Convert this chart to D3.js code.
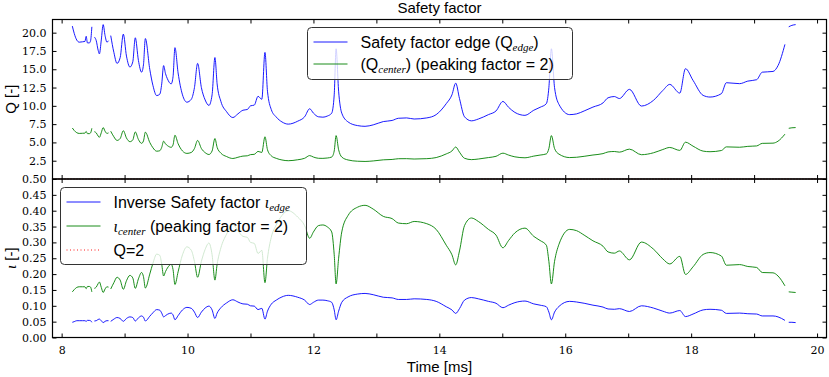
<!DOCTYPE html>
<html>
<head>
<meta charset="utf-8">
<script src="https://cdn.jsdelivr.net/npm/d3@7"></script>
<style>
  body { margin: 0; background: #fff; }
  svg { display: block; }
  .tick text { font-family: "DejaVu Serif", serif; font-size: 11px; fill: #000; }
  .lbl { font-family: "Liberation Sans", Arial, sans-serif; fill: #000; }
  .math { font-family: "Liberation Serif", serif; font-style: italic; }
</style>
</head>
<body>
<div id="chart"></div>
<script>
// time [ms]; null marks a gap in the record
const time = [8.17,8.20,8.24,8.28,8.33,8.37,8.39,8.41,8.44,8.46,8.48,8.50,8.52,8.55,8.58,8.60,8.63,8.66,8.69,8.72,8.745,8.765,
  8.78,8.83,8.88,8.93,8.98,9.03,9.085,9.13,9.17,9.22,9.27,9.30,9.33,9.40,9.45,9.51,9.56,9.59,9.62,9.65,9.68,9.74,9.77,9.80,9.85,9.92,9.99,
  10.06,10.11,10.16,10.22,10.28,10.34,10.39,10.435,10.47,10.53,10.62,10.72,10.80,10.88,10.95,11.00,11.06,11.12,11.18,11.23,11.27,11.33,11.41,
  11.50,11.60,11.75,11.86,11.94,12.00,12.08,12.15,12.22,12.29,12.33,12.36,12.40,12.45,12.55,12.70,12.82,12.95,13.11,13.25,13.35,13.48,13.60,
  13.80,13.95,14.11,14.20,14.26,14.32,14.40,14.51,14.62,14.78,14.90,15.01,15.10,15.20,15.36,15.50,15.60,15.70,15.74,15.78,15.83,15.90,16.07,
  16.18,16.30,16.44,16.60,16.68,16.78,16.86,17.02,17.21,17.40,17.55,17.66,17.82,17.91,18.03,18.19,18.30,18.48,18.56,18.77,18.90,19.04,19.13,
  19.30,19.38,19.49,19.52,19.55,19.60,19.66];

const qEdge = [20.9,19.9,19.0,18.7,18.75,18.8,19.5,18.6,18.6,18.9,20.8,null,19.4,18.9,17.6,17.1,19.0,21.1,19.6,18.7,18.9,null,
  19.6,17.3,15.8,16.6,19.8,16.8,15.3,16.0,19.3,16.2,14.6,15.6,19.2,15.0,12.8,11.4,11.6,13.0,15.5,14.4,13.7,13.0,14.0,17.95,14.5,11.5,10.5,
  10.9,12.5,15.8,12.5,10.8,10.06,11.5,16.6,13.0,10.6,9.2,8.4,8.9,9.4,9.5,10.0,10.1,11.3,10.9,17.3,12.0,9.5,8.46,
  7.8,7.5,7.9,8.5,9.6,9.0,8.5,8.45,8.6,9.0,11.5,17.8,12.0,9.0,7.8,7.3,7.2,7.4,7.85,8.0,8.3,8.35,8.2,
  8.35,8.8,10.3,11.5,13.1,11.0,8.5,7.95,8.2,8.8,9.3,10.6,9.8,9.1,8.7,9.4,9.8,10.3,12.5,17.8,12.5,10.2,8.8,
  8.9,9.3,9.83,10.4,11.1,11.27,11.0,12.25,9.97,10.74,12.1,12.93,11.74,15.08,13.48,11.43,11.2,11.66,13.16,13.03,13.38,13.57,14.6,
  14.7,15.5,18.4,null,20.8,21.0,21.1];

const qCenter = [6.97,6.63,6.33,6.23,6.25,6.27,6.5,6.2,6.2,6.3,6.93,null,6.47,6.3,5.87,5.7,6.33,7.03,6.53,6.23,6.3,null,
  6.53,5.77,5.27,5.53,6.6,5.6,5.1,5.33,6.43,5.4,4.87,5.2,6.4,5.0,4.27,3.8,3.87,4.33,5.17,4.8,4.57,4.33,4.67,5.98,4.83,3.83,3.5,
  3.63,4.17,5.27,4.17,3.6,3.35,3.83,5.53,4.33,3.53,3.07,2.8,2.97,3.13,3.17,3.33,3.37,3.77,3.63,5.77,4.0,3.17,2.82,
  2.6,2.5,2.63,2.83,3.2,3.0,2.83,2.82,2.87,3.0,3.83,5.93,4.0,3.0,2.6,2.43,2.4,2.47,2.62,2.67,2.77,2.78,2.73,
  2.78,2.93,3.43,3.83,4.37,3.67,2.83,2.65,2.73,2.93,3.1,3.53,3.27,3.03,2.9,3.13,3.27,3.43,4.17,5.93,4.17,3.4,2.93,
  2.97,3.1,3.28,3.47,3.7,3.76,3.67,4.08,3.32,3.58,4.03,4.31,3.91,5.03,4.49,3.81,3.73,3.89,4.39,4.34,4.46,4.52,4.87,
  4.9,5.17,6.13,null,6.93,7.0,7.03];

const iotaEdge = [.048,.050,.053,.053,.053,.053,.051,.054,.054,.053,.048,null,.052,.053,.057,.058,.053,.047,.051,.053,.053,null,
  .051,.058,.063,.060,.051,.060,.065,.063,.052,.062,.068,.064,.052,.067,.078,.088,.086,.077,.065,.069,.073,.077,.071,.056,.069,.087,.095,
  .092,.080,.063,.080,.093,.099,.087,.060,.077,.094,.109,.119,.112,.106,.105,.100,.099,.088,.092,.058,.083,.105,.118,
  .128,.133,.127,.118,.104,.111,.118,.118,.116,.111,.087,.056,.083,.111,.128,.137,.139,.135,.127,.125,.120,.120,.122,
  .120,.114,.097,.087,.076,.091,.118,.126,.122,.114,.108,.094,.102,.110,.115,.106,.102,.097,.080,.056,.080,.098,.114,
  .112,.108,.102,.096,.090,.089,.091,.082,.100,.093,.083,.077,.085,.066,.074,.087,.089,.086,.076,.077,.075,.074,.068,
  .068,.065,.054,null,.048,.048,.047];

const iotaCenter = [.144,.151,.158,.160,.160,.160,.154,.161,.161,.159,.144,null,.155,.159,.170,.175,.158,.142,.153,.160,.159,null,
  .153,.173,.190,.181,.152,.179,.196,.188,.155,.185,.205,.192,.156,.200,.234,.263,.259,.231,.194,.208,.219,.231,.214,.167,.207,.261,.286,
  .275,.240,.190,.240,.278,.298,.261,.181,.231,.283,.326,.357,.337,.319,.316,.300,.297,.265,.275,.173,.250,.316,.355,
  .385,.400,.380,.353,.313,.333,.353,.355,.349,.333,.261,.169,.250,.333,.385,.411,.417,.405,.382,.375,.361,.359,.366,
  .359,.341,.291,.261,.229,.273,.353,.377,.366,.341,.323,.283,.306,.330,.345,.319,.306,.291,.240,.169,.240,.294,.341,
  .337,.323,.305,.288,.270,.266,.273,.245,.301,.279,.248,.232,.256,.199,.223,.262,.268,.257,.228,.230,.224,.221,.205,
  .204,.194,.163,null,.144,.143,.142];

const qTicks = [2.5, 5, 7.5, 10, 12.5, 15, 17.5, 20];
const iotaTicks = [0, .05, .10, .15, .20, .25, .30, .35, .40, .45, .50];
const timeTicks = d3.range(8, 21);

const width = 829, height = 377;
const left = 52.5, right = 826.5, top1 = 19.5, mid = 179, bottom = 337.5;
const blue = "#0000ff", green = "#008000";

const svg = d3.select("#chart").append("svg")
  .attr("width", width)
  .attr("height", height);

const x = d3.scaleLinear().domain([7.855, 20.15]).range([left, right]);
const yQ = d3.scaleLinear().domain([0, 21.8]).range([mid, top1]);
const yI = d3.scaleLinear().domain([0, 0.5]).range([bottom, mid]);

function drawLine(vals, y, color) {
  const pts = time.map((t, i) => [t, vals[i]]);
  const line = d3.line()
    .defined(d => d[1] != null)
    .curve(d3.curveMonotoneX)
    .x(d => x(d[0]))
    .y(d => y(d[1]));
  svg.append("path")
    .datum(pts)
    .attr("d", line)
    .attr("fill", "none")
    .attr("stroke", color)
    .attr("stroke-width", 0.9)
    .attr("stroke-linejoin", "round");
}

function drawFrame(y0, y1, y, yTicks, yFmt, withXLabels) {
  const g = svg.append("g");
  g.append("g")
    .attr("transform", `translate(${left},0)`)
    .call(d3.axisLeft(y).tickValues(yTicks).tickFormat(yFmt).tickSize(-4).tickPadding(6));
  g.append("g")
    .attr("transform", `translate(${right},0)`)
    .call(d3.axisRight(y).tickValues(yTicks).tickFormat("").tickSize(-4));
  g.append("g")
    .attr("transform", `translate(0,${y0})`)
    .call(d3.axisTop(x).tickValues(timeTicks).tickFormat("").tickSize(-4));
  g.append("g")
    .attr("transform", `translate(0,${y1})`)
    .call(d3.axisBottom(x).tickValues(timeTicks)
      .tickFormat(d => withXLabels && d % 2 === 0 ? d : "")
      .tickSize(-4).tickPadding(9));
  g.selectAll(".domain").remove();
  g.selectAll(".tick line").attr("stroke", "#000");
  g.append("rect")
    .attr("x", left).attr("y", y0)
    .attr("width", right - left).attr("height", y1 - y0)
    .attr("fill", "none").attr("stroke", "#000").attr("stroke-width", 1.2);
}

// top panel: safety factor
drawLine(qEdge, yQ, blue);
drawLine(qCenter, yQ, green);
// bottom panel: inverse safety factor, Q=2 at iota=0.5
svg.append("line")
  .attr("x1", left).attr("x2", right)
  .attr("y1", yI(0.5)).attr("y2", yI(0.5))
  .attr("stroke", "red").attr("stroke-dasharray", "1,2");
drawLine(iotaEdge, yI, blue);
drawLine(iotaCenter, yI, green);

drawFrame(top1, mid, yQ, qTicks, d3.format(".1f"), false);
drawFrame(mid, bottom, yI, iotaTicks, d3.format(".2f"), true);

function legend(x0, y0, w, h, rows) {
  const g = svg.append("g").attr("transform", `translate(${x0},${y0})`);
  g.append("rect")
    .attr("width", w).attr("height", h).attr("rx", 4)
    .attr("fill", "#fff").attr("fill-opacity", 0.8)
    .attr("stroke", "#333").attr("stroke-width", 1);
  rows.forEach((r, i) => {
    const cy = 14.5 + i * r.step;
    g.append("line")
      .attr("x1", 6).attr("x2", 40).attr("y1", cy).attr("y2", cy)
      .attr("stroke", r.color).attr("stroke-width", 0.9)
      .attr("stroke-dasharray", r.dash || null);
    const t = g.append("text").attr("class", "lbl")
      .attr("x", 53).attr("y", cy + 5.5).attr("font-size", 16);
    r.text(t);
  });
}

legend(307.5, 27.5, 265, 52, [
  {color: blue, step: 22, text: t => {
    t.append("tspan").text("Safety factor edge (Q");
    t.append("tspan").attr("class", "math").attr("font-size", 11).attr("dy", 3).text("edge");
    t.append("tspan").attr("dy", -3).text(")");
  }},
  {color: green, step: 22, text: t => {
    t.append("tspan").text("(Q");
    t.append("tspan").attr("class", "math").attr("font-size", 11).attr("dy", 3).text("center");
    t.append("tspan").attr("dy", -3).text(") (peaking factor = 2)");
  }}
]);

legend(60.5, 187.5, 246, 77, [
  {color: blue, step: 24, text: t => {
    t.append("tspan").text("Inverse Safety factor ");
    t.append("tspan").attr("class", "math").attr("font-size", 16).text("ι");
    t.append("tspan").attr("class", "math").attr("font-size", 11).attr("dy", 3).text("edge");
  }},
  {color: green, step: 24, text: t => {
    t.append("tspan").attr("class", "math").attr("font-size", 16).text("ι");
    t.append("tspan").attr("class", "math").attr("font-size", 11).attr("dy", 3).text("center");
    t.append("tspan").attr("dy", -3).text("  (peaking factor = 2)");
  }},
  {color: "red", step: 24, dash: "1,2.5", text: t => {
    t.append("tspan").text("Q=2");
  }}
]);

// titles
svg.append("text").attr("class", "lbl")
  .attr("x", (left + right) / 2).attr("y", 13)
  .attr("text-anchor", "middle").attr("font-size", 15)
  .text("Safety factor");
svg.append("text").attr("class", "lbl")
  .attr("x", (left + right) / 2).attr("y", 372)
  .attr("text-anchor", "middle").attr("font-size", 15)
  .text("Time [ms]");
svg.append("text").attr("class", "lbl")
  .attr("transform", `translate(16,${(top1 + mid) / 2}) rotate(-90)`)
  .attr("text-anchor", "middle").attr("font-size", 15)
  .text("Q [-]");
const il = svg.append("text").attr("class", "lbl")
  .attr("transform", `translate(16,${(mid + bottom) / 2}) rotate(-90)`)
  .attr("text-anchor", "middle").attr("font-size", 15);
il.append("tspan").attr("class", "math").text("ι");
il.append("tspan").text(" [-]");
</script>
</body>
</html>
